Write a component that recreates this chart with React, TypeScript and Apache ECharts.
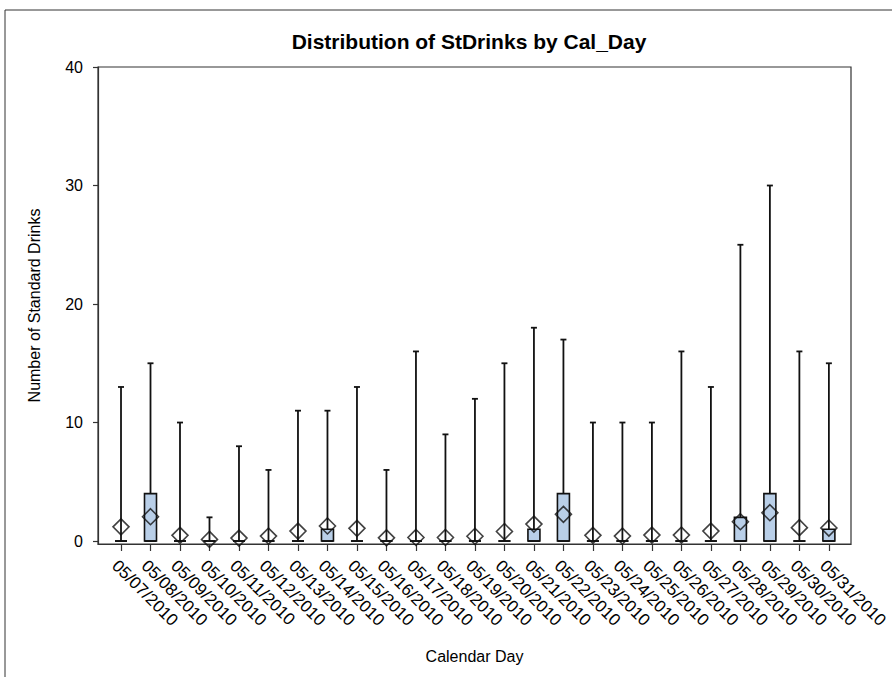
import React, { useEffect, useRef } from "react";
import * as echarts from "echarts";

const days: string[] = [
  "05/07/2010", "05/08/2010", "05/09/2010", "05/10/2010", "05/11/2010",
  "05/12/2010", "05/13/2010", "05/14/2010", "05/15/2010", "05/16/2010",
  "05/17/2010", "05/18/2010", "05/19/2010", "05/20/2010", "05/21/2010",
  "05/22/2010", "05/23/2010", "05/24/2010", "05/25/2010", "05/26/2010",
  "05/27/2010", "05/28/2010", "05/29/2010", "05/30/2010", "05/31/2010",
];
const minVals: number[] = [0, 0, 0, 0, 0, 0, 0, 0, 0, 0, 0, 0, 0, 0, 0, 0, 0, 0, 0, 0, 0, 0, 0, 0, 0];
const q1Vals: number[] = [0, 0, 0, 0, 0, 0, 0, 0, 0, 0, 0, 0, 0, 0, 0, 0, 0, 0, 0, 0, 0, 0, 0, 0, 0];
const medianVals: number[] = [0, 0, 0, 0, 0, 0, 0, 0, 0, 0, 0, 0, 0, 0, 0, 0, 0, 0, 0, 0, 0, 0, 0, 0, 0];
const q3Vals: number[] = [0, 4, 0, 0, 0, 0, 0, 1, 0, 0, 0, 0, 0, 0, 1, 4, 0, 0, 0, 0, 0, 2, 4, 0, 1];
const maxVals: number[] = [13, 15, 10, 2, 8, 6, 11, 11, 13, 6, 16, 9, 12, 15, 18, 17, 10, 10, 10, 16, 13, 25, 30, 16, 15];
const meanVals: number[] = [1.2, 2.05, 0.48, 0.14, 0.25, 0.42, 0.84, 1.27, 1.07, 0.27, 0.3, 0.3, 0.4, 0.8, 1.43, 2.25, 0.48, 0.42, 0.5, 0.5, 0.84, 1.63, 2.39, 1.13, 1.1];
const yTicks: number[] = [0, 10, 20, 30, 40];

const FONT = "Liberation Sans";
const INK = "#111";

export default function App() {
  const ref = useRef<HTMLDivElement>(null);
  useEffect(() => {
    if (!ref.current) return;
    const chart = echarts.init(ref.current, undefined, { renderer: "svg" });
    const idx = days.map((_, i) => i);
    const boxData = idx.map((i) => [i, minVals[i], q1Vals[i], medianVals[i], q3Vals[i], maxVals[i]]);
    const meanData = idx.map((i) => [i, meanVals[i]]);

    const option: any = {
      animation: false,
      backgroundColor: "#fff",
      textStyle: { fontFamily: FONT },
      title: {
        text: "Distribution of StDrinks by Cal_Day",
        left: 464,
        top: 26,
        textAlign: "center",
        textStyle: { fontFamily: FONT, fontWeight: "bold", fontSize: 21, color: "#000" },
      },
      grid: {
        left: 98,
        right: 41,
        top: 67,
        bottom: 133,
        show: true,
        borderColor: "#333",
        borderWidth: 1.2,
        backgroundColor: "transparent",
      },
      xAxis: {
        type: "value",
        min: -0.78,
        max: 24.75,
        name: "Calendar Day",
        nameLocation: "middle",
        nameGap: 104,
        nameTextStyle: { fontFamily: FONT, fontSize: 16, color: "#000" },
        axisLine: { show: true, onZero: false, lineStyle: { color: "#333", width: 1.2 } },
        axisTick: { show: true, length: 7, customValues: idx, lineStyle: { color: "#333", width: 1.2 } },
        axisLabel: {
          customValues: idx,
          formatter: (v: number) => days[Math.round(v)] ?? "",
          rotate: -45,
          align: "left",
          verticalAlign: "top",
          margin: 13,
          fontFamily: FONT,
          fontSize: 17,
          color: "#000",
          hideOverlap: false,
        },
        splitLine: { show: false },
      },
      yAxis: {
        type: "value",
        min: -0.25,
        max: 40,
        name: "Number of Standard Drinks",
        nameLocation: "middle",
        nameGap: 56,
        nameTextStyle: { fontFamily: FONT, fontSize: 16, color: "#000" },
        axisLine: { show: true, onZero: false, lineStyle: { color: "#333", width: 1.2 } },
        axisTick: { show: true, length: 5, customValues: yTicks, lineStyle: { color: "#333", width: 1.2 } },
        axisLabel: { customValues: yTicks, fontFamily: FONT, fontSize: 16, color: "#000", margin: 15 },
        splitLine: { show: false },
      },
      graphic: [
        { type: "line", shape: { x1: 5, y1: 10, x2: 892, y2: 10 }, style: { stroke: "#333", lineWidth: 1 } },
        { type: "line", shape: { x1: 5, y1: 10, x2: 5, y2: 677 }, style: { stroke: "#333", lineWidth: 1 } },
      ],
      series: [
        {
          type: "custom",
          name: "box",
          data: boxData,
          encode: { x: 0, y: [1, 2, 3, 4, 5] },
          z: 2,
          renderItem: (params: any, api: any) => {
            const i = api.value(0);
            const pMin = api.coord([i, api.value(1)]);
            const pQ1 = api.coord([i, api.value(2)]);
            const pMed = api.coord([i, api.value(3)]);
            const pQ3 = api.coord([i, api.value(4)]);
            const pMax = api.coord([i, api.value(5)]);
            const x = pMax[0];
            const bw = 12;
            const cw = 6;
            const lineStyle = { stroke: INK, lineWidth: 1.8 };
            const children: any[] = [
              { type: "line", shape: { x1: x, y1: pQ3[1], x2: x, y2: pMax[1] }, style: lineStyle },
              { type: "line", shape: { x1: x - cw / 2, y1: pMax[1], x2: x + cw / 2, y2: pMax[1] }, style: lineStyle },
              { type: "line", shape: { x1: x, y1: pQ1[1], x2: x, y2: pMin[1] }, style: lineStyle },
              {
                type: "rect",
                shape: { x: x - bw / 2, y: pQ3[1], width: bw, height: pQ1[1] - pQ3[1] },
                style: { fill: "#b9cfe8", stroke: INK, lineWidth: 1.6 },
              },
              { type: "line", shape: { x1: x - bw / 2, y1: pMed[1], x2: x + bw / 2, y2: pMed[1] }, style: lineStyle },
            ];
            return { type: "group", children };
          },
        },
        {
          type: "scatter",
          name: "mean",
          data: meanData,
          symbol: "diamond",
          symbolSize: [16, 16],
          z: 3,
          itemStyle: { color: "rgba(0,0,0,0)", borderColor: INK, borderWidth: 1.6 },
        },
      ],
    };
    chart.setOption(option);
    return () => chart.dispose();
  }, []);
  return (
    <div
      ref={ref}
      style={{ position: "fixed", left: 0, top: 0, width: 892, height: 677, background: "#fff" }}
    />
  );
}
